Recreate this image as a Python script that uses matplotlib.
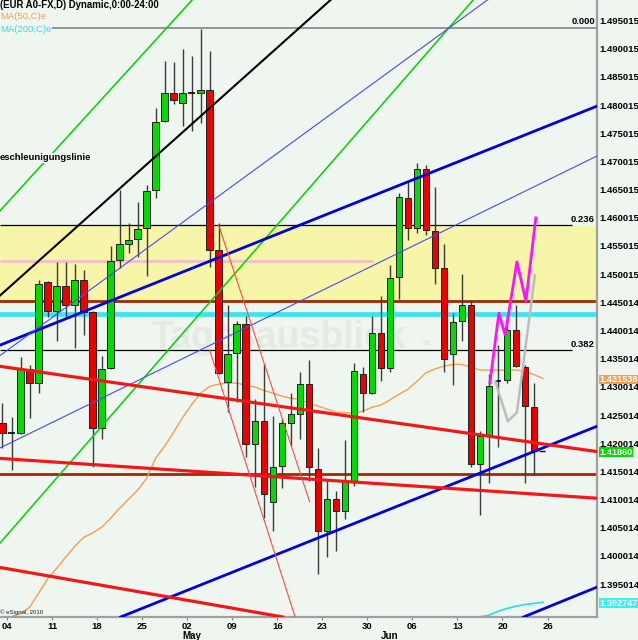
import matplotlib
matplotlib.use("Agg")
import matplotlib.pyplot as plt
import matplotlib.transforms as mtransforms
import numpy as np

plt.rcParams['font.family'] = ['Liberation Sans', 'DejaVu Sans']

# ---------------- data ----------------
opens = [1.4236, 1.4218, 1.4218, 1.4332, 1.4307, 1.4486, 1.4435, 1.4479, 1.4445, 1.4490,
         1.4433, 1.4227, 1.4333, 1.4525, 1.4553, 1.4562, 1.4582, 1.4649, 1.4772, 1.4821,
         1.4804, 1.4821, 1.4821, 1.4827, 1.4543, 1.4309, 1.4360, 1.4411, 1.4198, 1.4239,
         1.4096, 1.4159, 1.4236, 1.4252, 1.4305, 1.4154, 1.4044, 1.4101, 1.4080, 1.4133,
         1.4323, 1.4289, 1.4395, 1.4333, 1.4495, 1.4635, 1.4582, 1.4687, 1.4577, 1.4511,
         1.4358, 1.4417, 1.4445, 1.4163, 1.4213, 1.4310, 1.4312, 1.4401, 1.4335, 1.4264]
highs = [1.4271, 1.4246, 1.4353, 1.4339, 1.4490, 1.4488, 1.4522, 1.4522, 1.4518, 1.4507,
         1.4435, 1.4355, 1.4550, 1.4649, 1.4591, 1.4628, 1.4658, 1.4795, 1.4878, 1.4876,
         1.4900, 1.4887, 1.4935, 1.4896, 1.4591, 1.4445, 1.4417, 1.4426, 1.4278, 1.4340,
         1.4248, 1.4243, 1.4289, 1.4326, 1.4348, 1.4191, 1.4135, 1.4115, 1.4206, 1.4342,
         1.4335, 1.4426, 1.4461, 1.4516, 1.4644, 1.4663, 1.4697, 1.4694, 1.4655, 1.4553,
         1.4431, 1.4500, 1.4454, 1.4222, 1.4323, 1.4374, 1.4426, 1.4445, 1.4339, 1.4307]
lows = [1.4191, 1.4152, 1.4217, 1.4245, 1.4289, 1.4424, 1.4381, 1.4424, 1.4369, 1.4392,
        1.4158, 1.4207, 1.4332, 1.4511, 1.4537, 1.4530, 1.4497, 1.4635, 1.4771, 1.4802,
        1.4763, 1.4754, 1.4768, 1.4513, 1.4323, 1.4255, 1.4273, 1.4175, 1.4122, 1.4067,
        1.4044, 1.4120, 1.4196, 1.4207, 1.4133, 1.3969, 1.3998, 1.4009, 1.4065, 1.4124,
        1.4255, 1.4288, 1.4310, 1.4326, 1.4456, 1.4561, 1.4573, 1.4569, 1.4482, 1.4326,
        1.4303, 1.4381, 1.4158, 1.4072, 1.4129, 1.4193, 1.4307, 1.4335, 1.4129, 1.4143]
closes = [1.4218, 1.4218, 1.4332, 1.4307, 1.4482, 1.4435, 1.4479, 1.4445, 1.4490, 1.4433,
          1.4227, 1.4332, 1.4523, 1.4553, 1.4561, 1.4580, 1.4647, 1.4770, 1.4821, 1.4809,
          1.4821, 1.4821, 1.4827, 1.4543, 1.4324, 1.4358, 1.4411, 1.4198, 1.4239, 1.4110,
          1.4158, 1.4236, 1.4252, 1.4305, 1.4158, 1.4044, 1.4101, 1.4080, 1.4133, 1.4328,
          1.4289, 1.4395, 1.4333, 1.4493, 1.4637, 1.4582, 1.4687, 1.4578, 1.4511, 1.4349,
          1.4415, 1.4445, 1.4163, 1.4213, 1.4301, 1.4310, 1.4401, 1.4337, 1.4266, 1.4186]

ma50 = [1.3892, 1.3892, 1.3898, 1.3909, 1.3934, 1.3959, 1.3978, 1.3998, 1.4017, 1.4033,
        1.4041, 1.4051, 1.4067, 1.4085, 1.4101, 1.4117, 1.4138, 1.4174, 1.4195, 1.4220,
        1.4246, 1.4269, 1.4289, 1.4301, 1.4305, 1.4307, 1.4307, 1.4303, 1.4300, 1.4294,
        1.4289, 1.4284, 1.4280, 1.4278, 1.4271, 1.4266, 1.4261, 1.4255, 1.4254, 1.4254,
        1.4257, 1.4264, 1.4268, 1.4277, 1.4287, 1.4296, 1.4310, 1.4325, 1.4332, 1.4337,
        1.4340, 1.4340, 1.4335, 1.4330, 1.4330, 1.4330, 1.4330, 1.4330, 1.4328, 1.4322,
        1.4315]
# MA200 lies on the bottom edge of the chart until mid June
ma200 = [1.3892, 1.3892, 1.3892, 1.3892, 1.3892, 1.3892, 1.3892, 1.3892, 1.3892, 1.3892,
         1.3892, 1.3892, 1.3892, 1.3892, 1.3892, 1.3892, 1.3892, 1.3892, 1.3892, 1.3892,
         1.3892, 1.3892, 1.3892, 1.3892, 1.3892, 1.3892, 1.3892, 1.3892, 1.3892, 1.3892,
         1.3892, 1.3892, 1.3892, 1.3892, 1.3892, 1.3892, 1.3892, 1.3892, 1.3892, 1.3892,
         1.3892, 1.3892, 1.3892, 1.3892, 1.3892, 1.3892, 1.3892, 1.3892, 1.3892, 1.3892,
         1.3892, 1.3892, 1.3892, 1.3892, 1.3895, 1.3902, 1.3907, 1.3911, 1.3914, 1.3916,
         1.3918]

week_labels = ["04", "11", "18", "25", "02", "09", "16", "23", "30", "06", "13", "20", "26"]
month_labels = ["May", "Jun"]
month_pos = [20.0, 42.0]

ytick_values = [1.495015, 1.490015, 1.485015, 1.480015, 1.475015, 1.470015, 1.465015,
                1.460015, 1.455015, 1.450015, 1.445014, 1.440014, 1.435014, 1.430014,
                1.425014, 1.420014, 1.415014, 1.410014, 1.405014, 1.400014, 1.395014]

fib_levels = [1.4937, 1.4587, 1.4365]
fib_labels = ["0.000", "0.236", "0.382"]
zone_low, zone_high = 1.4452, 1.4586
brown_levels = [1.4452, 1.4145]
cyan_level = 1.4429
pink_level = 1.4523

# trend lines: two points each (bar index, price)
trend_names = ["black", "greenA", "greenB", "blueT1", "blueT2", "blueT3",
               "bluet1", "bluet2", "redT1", "redT2", "redT3"]
trend_p1 = [(11.6, 1.4632), (0.83, 1.4632), (11.6, 1.4241), (0, 1.4376), (0, 1.3808),
            (58, 1.3893), (0, 1.4359), (0, 1.4194), (0, 1.4336), (0, 1.4173), (0, 1.3979)]
trend_p2 = [(35.25, 1.4970), (19.7, 1.4963), (49.7, 1.4940), (60, 1.4760), (60, 1.4192),
            (66, 1.3945), (50, 1.4942), (60, 1.4663), (60, 1.4199), (60, 1.4109), (30, 1.3895)]
# thin red segments
seg_p1 = [(24, 1.4587), (23, 1.4365)]
seg_p2 = [(34.1, 1.4096), (32.5, 1.3891)]

# projections
mag_x = [54.1, 55.1, 55.8, 57.1, 58.1, 59.2]
mag_y = [1.4307, 1.4431, 1.4392, 1.4522, 1.4452, 1.4600]
gry_x = [54.7, 56.1, 57.1, 59.1]
gry_y = [1.4310, 1.4239, 1.4255, 1.4498]

ma50_label = "1.431538"
close_label = "1.41860"
ma200_label = "1.392747"

# ---------------- styles ----------------
BG = '#EFF6EF'
GREEN = '#00DC00'
RED = '#EE0000'
trend_style = {
    "black": ('#000000', 1.5), "greenA": ('#00D400', 1.1), "greenB": ('#00D400', 1.1),
    "blueT1": ('#0000DD', 2.0), "blueT2": ('#0000DD', 2.0), "blueT3": ('#0000DD', 2.0),
    "bluet1": ('#4A4AF2', 0.8), "bluet2": ('#4A4AF2', 0.8),
    "redT1": ('#F01818', 2.3), "redT2": ('#F01818', 2.3), "redT3": ('#F01818', 2.3),
}

fig = plt.figure(figsize=(6.38, 6.40), dpi=100, facecolor=BG)
ax = fig.add_axes([0, 23 / 640, 597 / 638, 617 / 640], facecolor=BG)
ax.set_xlim(-0.2775, 65.99)
ax.set_ylim(1.38919, 1.49866)

# zone and horizontal levels
ax.axhspan(zone_low, zone_high, color='#F7F5A8', lw=0, zorder=0.5)
ax.text(16.4, 1.4369, "Tagesausblick", fontsize=27, fontweight='bold', color='#E3EBE3',
        va='baseline', ha='left', zorder=0.6)
ax.text(46.7, 1.4375, "de", fontsize=5, fontweight='bold', color='#DEE6DE',
        va='baseline', ha='left', zorder=0.6)
ax.hlines(pink_level, ax.get_xlim()[0], 41.1, color='#F2C2C8', lw=2.2, zorder=1)
ax.axhline(cyan_level, color='#3CE4F2', lw=3.4, zorder=1)
for lv in brown_levels:
    ax.axhline(lv, color='#A02A00', lw=2.0, zorder=1.1)
ax.axhline(fib_levels[0], color='#8C8C8C', lw=1.3, zorder=1.1)
for lv in fib_levels[1:]:
    ax.hlines(lv, ax.get_xlim()[0], 63.2, color='#000000', lw=0.9, zorder=1.1)

btrans = mtransforms.blended_transform_factory(ax.transAxes, ax.transData)
for lv, lb in zip(fib_levels, fib_labels):
    ax.annotate(lb, xy=(0.9966, lv), xycoords=btrans, xytext=(0, 1.5),
                textcoords='offset pixels', ha='right', va='bottom',
                fontsize=6.8, fontweight='bold', color='black', zorder=4)

# moving averages
ax.plot(np.arange(len(ma50)), ma50, color='#F5A050', lw=1.0, zorder=1.5)
ax.plot(np.arange(len(ma200)), ma200, color='#30DDEB', lw=1.3, zorder=1.6)

# candles
o = np.array(opens); h = np.array(highs); l = np.array(lows); c = np.array(closes)
x = np.arange(len(o))
ax.vlines(x, l, h, color='#3A3A3A', lw=1.0, zorder=2)
cols = np.where(c > o, GREEN, RED)
body = c != o
ax.bar(x[body], np.abs(c - o)[body], bottom=np.minimum(o, c)[body], width=0.72,
       color=cols[body], edgecolor='#202020', linewidth=0.7, zorder=2.1)
ax.hlines(c[~body], x[~body] - 0.36, x[~body] + 0.36, color='#000000', lw=1.2, zorder=2.1)
ax.hlines(c[-1], x[-1] + 0.55, x[-1] + 1.25, color='#000000', lw=1.0, zorder=2.2)

# trend lines
for name, p1, p2 in zip(trend_names, trend_p1, trend_p2):
    colr, lw = trend_style[name]
    ax.axline(p1, p2, color=colr, lw=lw, zorder=3)
for p1, p2 in zip(seg_p1, seg_p2):
    ax.plot([p1[0], p2[0]], [p1[1], p2[1]], color='#FF4A4A', lw=0.8, zorder=3)

# projections
ax.plot(gry_x, gry_y, color='#BDBDBD', lw=1.8, zorder=3.4)
ax.plot(mag_x, mag_y, color='#FF10FF', lw=2.0, zorder=3.5)

# axes
for s in ['left', 'top']:
    ax.spines[s].set_visible(False)
for s in ['right', 'bottom']:
    ax.spines[s].set_color('#A0A0A0')
    ax.spines[s].set_linewidth(1.6)
ax.yaxis.tick_right()
ax.set_yticks(ytick_values)
ax.set_yticklabels(["%.6f" % v for v in ytick_values], fontsize=6.8, fontweight='bold')
ax.tick_params(axis='y', length=0, pad=1.5)
ax.set_xticks([0.5 + 5 * k for k in range(len(week_labels))])
ax.set_xticklabels(week_labels, fontsize=6.8, fontweight='bold')
ax.tick_params(axis='x', length=2, pad=1.5, color='#808080')
mtrans = mtransforms.blended_transform_factory(ax.transData, fig.transFigure)
for mp, ml in zip(month_pos, month_labels):
    ax.text(mp, 4 / 640, ml, transform=mtrans, fontsize=7, fontweight='bold',
            ha='left', va='center', clip_on=False)

# right side value boxes
for val, lab, fc in [(ma50[-1], ma50_label, '#F5A050'), (c[-1], close_label, '#00DC00'),
                     (ma200[-1], ma200_label, '#3CEEF5')]:
    ax.annotate(lab, xy=(1.004, val), xycoords=btrans, xytext=(0, -1),
                textcoords='offset pixels', ha='left', va='center', fontsize=6.6,
                fontweight='bold', color='white', annotation_clip=False, zorder=6,
                bbox=dict(boxstyle='square,pad=0.05', fc=fc, ec='none'))

# header texts
bgbox = dict(boxstyle='square,pad=0.1', fc=BG, ec='none')
fig.text(0.0, 1 - 5 / 640, "(EUR A0-FX,D) Dynamic,0:00-24:00", fontsize=6.9,
         fontweight='bold', ha='left', va='center', color='black')
fig.text(0.0, 1 - 16.7 / 640, "MA(50,C)e", fontsize=6.8, ha='left', va='center',
         color='#F0A050', bbox=bgbox)
fig.text(0.0, 1 - 30 / 640, "MA(200,C)e", fontsize=6.8, ha='left', va='center',
         color='#30E0F0', bbox=bgbox)
fig.text(0.0, 1 - 158 / 640, "eschleunigungslinie", fontsize=6.8, fontweight='bold',
         ha='left', va='center', color='black', bbox=bgbox)
fig.text(0.0, 1 - 612 / 640, "\u00a9 eSignal, 2010", fontsize=4.3, ha='left', va='center',
         color='#202020')

fig.savefig("out.png", dpi=100, facecolor=BG)
